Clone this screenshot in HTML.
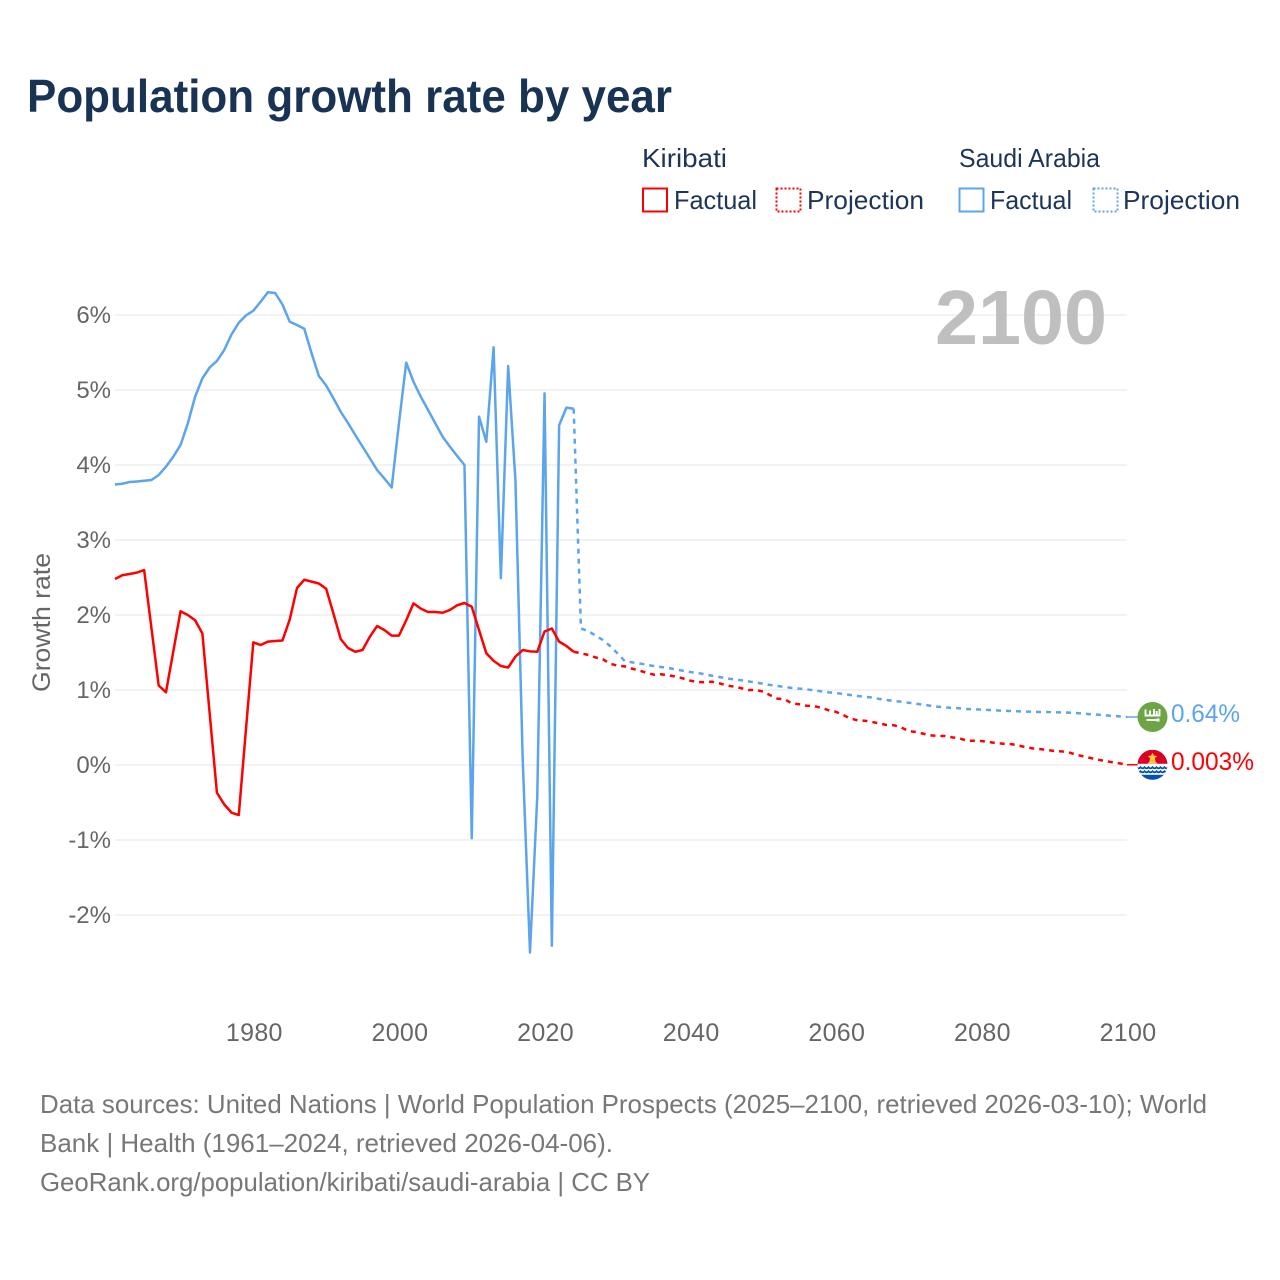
<!DOCTYPE html>
<html lang="en">
<head>
<meta charset="utf-8">
<title>Population growth rate by year</title>
<style>
html,body{margin:0;padding:0;background:#fff;}
svg{display:block;}
text{font-family:"Liberation Sans",sans-serif;}
</style>
</head>
<body>
<svg id="chart" xmlns="http://www.w3.org/2000/svg" width="1280" height="1280" viewBox="0 0 1280 1280">
  <defs>
    <clipPath id="flag-clip-ki"><circle cx="0" cy="0" r="15"/></clipPath>
  </defs>
  <rect width="1280" height="1280" fill="#fff"/>

  <text x="27" y="112" font-size="46" font-weight="700" fill="#183354" textLength="645" lengthAdjust="spacingAndGlyphs">Population growth rate by year</text>

  <g font-size="26" fill="#1d3557">
    <text x="642" y="167" textLength="85" lengthAdjust="spacingAndGlyphs">Kiribati</text>
    <text x="959" y="167" textLength="141" lengthAdjust="spacingAndGlyphs">Saudi Arabia</text>
    <rect x="643" y="188.5" width="24" height="23" fill="none" stroke="#ff0000" stroke-width="2"/>
    <text x="674" y="209" textLength="83" lengthAdjust="spacingAndGlyphs">Factual</text>
    <rect x="776.5" y="188.5" width="24" height="23" fill="none" stroke="#ff0000" stroke-width="2" stroke-dasharray="2 2"/>
    <text x="807" y="209" textLength="117" lengthAdjust="spacingAndGlyphs">Projection</text>
    <rect x="959.5" y="188.5" width="24" height="23" fill="none" stroke="#5ca4ec" stroke-width="2"/>
    <text x="990" y="209" textLength="82" lengthAdjust="spacingAndGlyphs">Factual</text>
    <rect x="1093.5" y="188.5" width="24" height="23" fill="none" stroke="#5ca4ec" stroke-width="2" stroke-dasharray="2 2"/>
    <text x="1123" y="209" textLength="117" lengthAdjust="spacingAndGlyphs">Projection</text>
  </g>

  <g id="grid"></g>

  <text x="935" y="344" font-size="77" font-weight="700" fill="#bfbfbf" textLength="172" lengthAdjust="spacingAndGlyphs">2100</text>

  <g id="y-ticks"></g>
  <g id="x-ticks"></g>
  <text transform="translate(50,692) rotate(-90)" x="0" y="0" font-size="25" fill="#666" textLength="139" lengthAdjust="spacingAndGlyphs">Growth rate</text>

  <g id="series"></g>

  <g id="flag-sa">
    <circle r="15" fill="#6da544"/>
    <g fill="none" stroke="#fff" stroke-width="1.9">
      <path d="M-7,-7.5V-1.5H-2.5V-6.5M-2.5,-1.5H1.5V-8M1.5,-1.5H7V-8M4.2,-6V-1.5"/>
      <path d="M-6,3H7"/>
      <path d="M4,3H7" stroke-width="3"/>
    </g>
  </g>
  <g id="flag-ki">
    <g clip-path="url(#flag-clip-ki)">
      <rect x="-15" y="-15" width="30" height="30" fill="#d80027"/>
      <path d="M0,-12l1.5,2.8 3.2,.4-2.3,2.2 .6,3.1L0,-5l-3,1.5 .6,-3.1-2.3,-2.2 3.2,-.4z" fill="#ffc83d"/>
      <path d="M-2,-4.5H2L5,-1H-5Z" fill="#ffc83d"/>
      <rect x="-15" y="-1" width="30" height="11.5" fill="#fff"/>
      <rect x="-15" y="10" width="30" height="6" fill="#0052b4"/>
      <g fill="none" stroke="#0052b4" stroke-width="1.8">
        <path d="M-16,2.5q2,2.2 4,0q2,2.2 4,0q2,2.2 4,0q2,2.2 4,0q2,2.2 4,0q2,2.2 4,0q2,2.2 4,0q2,2.2 4,0"/>
        <path d="M-16,6.5q2,2.2 4,0q2,2.2 4,0q2,2.2 4,0q2,2.2 4,0q2,2.2 4,0q2,2.2 4,0q2,2.2 4,0q2,2.2 4,0"/>
      </g>
    </g>
  </g>

  <text id="label-sa" x="1171" font-size="25" fill="#5ca4ec" textLength="69" lengthAdjust="spacingAndGlyphs">0.64%</text>
  <text id="label-ki" x="1171" font-size="25" fill="#ff0000" textLength="83" lengthAdjust="spacingAndGlyphs">0.003%</text>

  <g font-size="26" fill="#777">
    <text x="40" y="1113" textLength="1167" lengthAdjust="spacingAndGlyphs">Data sources: United Nations | World Population Prospects (2025–2100, retrieved 2026-03-10); World</text>
    <text x="40" y="1152" textLength="573" lengthAdjust="spacingAndGlyphs">Bank | Health (1961–2024, retrieved 2026-04-06).</text>
    <text x="40" y="1191" textLength="610" lengthAdjust="spacingAndGlyphs">GeoRank.org/population/kiribati/saudi-arabia | CC BY</text>
  </g>
</svg>

<script>
const factualStartYear = 1961;
const projectionStartYear = 2024;
const xTickYears = [1980, 2000, 2020, 2040, 2060, 2080, 2100];
const yTickValues = [-2, -1, 0, 1, 2, 3, 4, 5, 6];

const kiribatiFactual = [
  2.48, 2.53, 2.547, 2.565, 2.60, 1.83, 1.06, 0.97, 1.51, 2.05,
  2.00, 1.93, 1.755, 0.69, -0.37, -0.525, -0.635, -0.667, 0.49, 1.635,
  1.60, 1.645, 1.653, 1.66, 1.94, 2.36, 2.47, 2.445, 2.42, 2.35,
  2.02, 1.68, 1.56, 1.51, 1.533, 1.71, 1.853, 1.80, 1.725, 1.725,
  1.93, 2.155, 2.085, 2.04, 2.04, 2.03, 2.067, 2.13, 2.16, 2.11,
  1.80, 1.49, 1.39, 1.32, 1.30, 1.445, 1.533, 1.515, 1.51, 1.78,
  1.82, 1.645, 1.587, 1.51
];
const kiribatiProjection = [
  1.51, 1.49, 1.467, 1.435, 1.41, 1.35, 1.325, 1.315, 1.285, 1.26,
  1.23, 1.205, 1.21, 1.195, 1.18, 1.155, 1.125, 1.105, 1.105, 1.11,
  1.09, 1.06, 1.045, 1.025, 1.00, 1.00, 0.98, 0.93, 0.885, 0.875,
  0.82, 0.81, 0.79, 0.785, 0.765, 0.73, 0.71, 0.667, 0.62, 0.595,
  0.59, 0.573, 0.555, 0.533, 0.53, 0.50, 0.453, 0.44, 0.418, 0.395,
  0.387, 0.387, 0.369, 0.355, 0.324, 0.324, 0.32, 0.307, 0.293, 0.284,
  0.28, 0.262, 0.24, 0.222, 0.213, 0.20, 0.187, 0.182, 0.169, 0.137,
  0.116, 0.093, 0.071, 0.053, 0.036, 0.022, 0.003
];
const saudiFactual = [
  3.74, 3.75, 3.773, 3.78, 3.79, 3.80, 3.867, 3.977, 4.11, 4.267,
  4.555, 4.91, 5.155, 5.30, 5.387, 5.533, 5.74, 5.897, 5.995, 6.057,
  6.177, 6.303, 6.293, 6.14, 5.91, 5.867, 5.817, 5.49, 5.187, 5.06,
  4.89, 4.71, 4.56, 4.40, 4.245, 4.09, 3.933, 3.82, 3.70, 4.555,
  5.365, 5.11, 4.91, 4.733, 4.555, 4.377, 4.245, 4.12, 4.00, -0.977,
  4.645, 4.31, 5.57, 2.49, 5.32, 3.80, 0.07, -2.50, -0.42, 4.955,
  -2.41, 4.53, 4.765, 4.75
];
const saudiProjection = [
  4.75, 1.82, 1.787, 1.725, 1.667, 1.587, 1.49, 1.387, 1.369, 1.355,
  1.337, 1.32, 1.307, 1.293, 1.275, 1.257, 1.24, 1.227, 1.21, 1.19,
  1.173, 1.155, 1.142, 1.13, 1.115, 1.10, 1.085, 1.067, 1.053, 1.04,
  1.027, 1.018, 1.009, 0.995, 0.982, 0.969, 0.96, 0.947, 0.933, 0.92,
  0.91, 0.90, 0.88, 0.867, 0.853, 0.844, 0.83, 0.817, 0.804, 0.79,
  0.777, 0.769, 0.76, 0.756, 0.747, 0.742, 0.738, 0.733, 0.729, 0.724,
  0.72, 0.716, 0.711, 0.711, 0.707, 0.707, 0.702, 0.702, 0.698, 0.693,
  0.684, 0.676, 0.671, 0.662, 0.653, 0.649, 0.64
];

const SVG_NS = 'http://www.w3.org/2000/svg';
const RED = '#ff0000';
const BLUE = '#5ca4ec';

function xScale(year) {
  return 115 + (year - 1961) * (1012 / 139);
}
function yScale(value) {
  return 765 - value * 75;
}
function pathFrom(values, startYear) {
  return values.map(function (v, i) {
    return (i ? 'L' : 'M') + xScale(startYear + i).toFixed(2) + ',' + yScale(v).toFixed(2);
  }).join('');
}
function make(tag, parentId) {
  const el = document.createElementNS(SVG_NS, tag);
  document.getElementById(parentId).appendChild(el);
  return el;
}

yTickValues.forEach(function (v) {
  const line = make('line', 'grid');
  
  
  line.setAttribute('x1', 115);
  line.setAttribute('x2', 1127);
  line.setAttribute('y1', yScale(v));
  line.setAttribute('y2', yScale(v));
  line.setAttribute('stroke', '#eeeeee');
  line.setAttribute('stroke-width', '1.5');

  const label = make('text', 'y-ticks');
  
  
  label.setAttribute('x', 111);
  label.setAttribute('y', yScale(v) + 8);
  label.setAttribute('text-anchor', 'end');
  label.setAttribute('font-size', '24');
  label.setAttribute('fill', '#666');
  label.textContent = v + '%';
});

xTickYears.forEach(function (year) {
  const label = make('text', 'x-ticks');
  
  
  label.setAttribute('x', xScale(year) + 1);
  label.setAttribute('y', 1041);
  label.setAttribute('text-anchor', 'middle');
  label.setAttribute('font-size', '25');
  label.setAttribute('letter-spacing', '0.3');
  label.setAttribute('fill', '#666');
  label.textContent = year;
});

function drawLine(values, startYear, color, dashed, name) {
  const p = make('path', 'series');
  
  
  p.setAttribute('d', pathFrom(values, startYear));
  p.setAttribute('fill', 'none');
  p.setAttribute('stroke', color);
  p.setAttribute('stroke-width', '2.5');
  p.setAttribute('stroke-linejoin', 'round');
  if (dashed) {
    p.setAttribute('stroke-dasharray', '5 5');
  }
}
drawLine(saudiFactual, factualStartYear, BLUE, false, 'saudi-arabia-factual-line');
drawLine(saudiProjection, projectionStartYear, BLUE, true, 'saudi-arabia-projection-line');
drawLine(kiribatiFactual, factualStartYear, RED, false, 'kiribati-factual-line');
drawLine(kiribatiProjection, projectionStartYear, RED, true, 'kiribati-projection-line');

function placeEnd(values, color, flagId, labelId, connectorName) {
  const y = yScale(values[values.length - 1]);
  const endX = xScale(projectionStartYear + values.length - 1);
  const c = make('line', 'series');
  
  
  c.setAttribute('x1', endX);
  c.setAttribute('x2', endX + 11);
  c.setAttribute('y1', y);
  c.setAttribute('y2', y);
  c.setAttribute('stroke', color);
  c.setAttribute('stroke-width', '1.5');
  document.getElementById(flagId).setAttribute('transform', 'translate(1152.5,' + y + ')');
  document.getElementById(labelId).setAttribute('y', y + 5);
}
placeEnd(saudiProjection, BLUE, 'flag-sa', 'label-sa', 'saudi-arabia-end-connector');
placeEnd(kiribatiProjection, RED, 'flag-ki', 'label-ki', 'kiribati-end-connector');
</script>
</body>
</html>
